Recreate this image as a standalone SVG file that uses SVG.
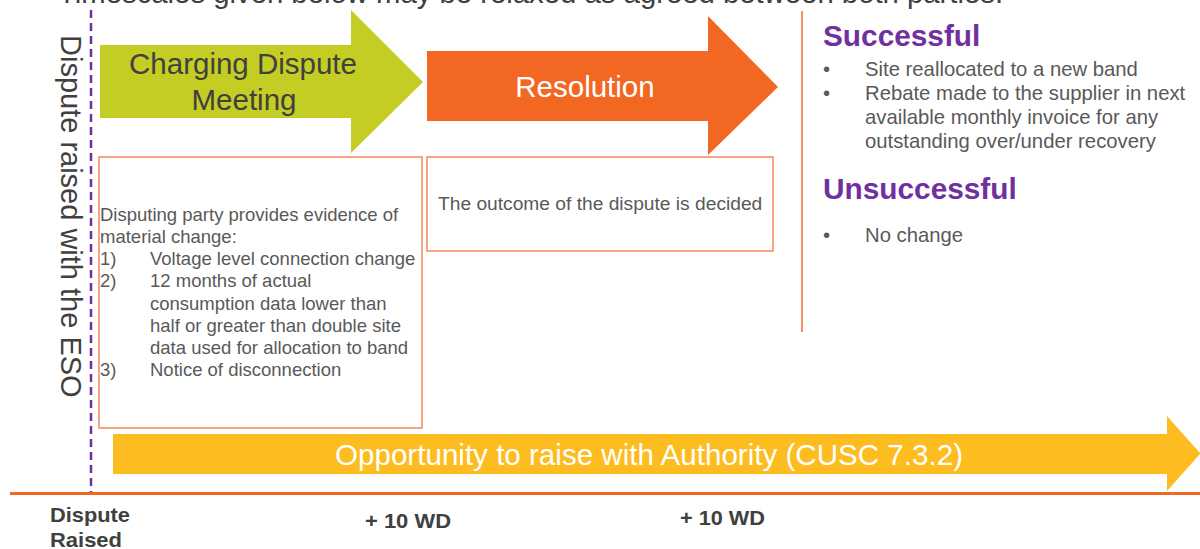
<svg xmlns="http://www.w3.org/2000/svg" width="1200" height="549" viewBox="0 0 1200 549">
  <style>
    .t { font-family: "Liberation Sans", Arial, sans-serif; }
    .body { font-family: "Liberation Sans", Arial, sans-serif; font-size: 18.5px; fill: #595959; }
    .rt { font-family: "Liberation Sans", Arial, sans-serif; font-size: 20.3px; fill: #595959; }
    .hd { font-family: "Liberation Sans", Arial, sans-serif; font-size: 29.8px; font-weight: bold; fill: #7030A0; }
    .tl { font-family: "Liberation Sans", Arial, sans-serif; font-size: 21px; font-weight: bold; fill: #404040; }
    .box { fill: #FFFFFF; stroke: #F4875A; stroke-width: 1.5; }
  </style>
  <rect x="0" y="0" width="1200" height="549" fill="#FFFFFF"/>

  <!-- Cropped heading at top -->
  <text class="t" x="58" y="3" font-size="29.3" fill="#404040">Timescales given below may be relaxed as agreed between both parties.</text>

  <g id="connectors">
    <!-- dispute raised marker -->
    <line x1="91" y1="10" x2="91" y2="492" stroke="#7030A0" stroke-width="2.5" stroke-dasharray="8 5"/>
    <!-- timeline -->
    <line x1="10" y1="493.5" x2="1200" y2="493.5" stroke="#F26722" stroke-width="3"/>
    <!-- outcome separator -->
    <line x1="802" y1="11" x2="802" y2="332" stroke="#F4915E" stroke-width="2"/>
  </g>

  <g id="dispute-raised-label">
    <text class="t" transform="translate(61,35) rotate(90)" font-size="29" fill="#404040">Dispute raised with the ESO</text>
  </g>

  <g id="charging-dispute-meeting">
    <polygon points="100,45 351,45 351,10 423,82 351,153 351,118 100,118" fill="#C4CD23"/>
    <text class="t" x="243" y="74" font-size="29.5" fill="#404040" text-anchor="middle">Charging Dispute</text>
    <text class="t" x="244" y="110" font-size="29.5" fill="#404040" text-anchor="middle">Meeting</text>
  </g>

  <g id="resolution">
    <polygon points="427,51 708,51 708,16 778,87 708,155 708,121 427,121" fill="#F26722"/>
    <text class="t" x="585" y="97" font-size="29.5" fill="#FFFFFF" text-anchor="middle">Resolution</text>
  </g>

  <g id="evidence-box">
    <rect class="box" x="99" y="157" width="323" height="271"/>
    <text class="body" x="100" y="221">Disputing party provides evidence of</text>
    <text class="body" x="100" y="243">material change:</text>
    <text class="body" x="100" y="265">1)</text>
    <text class="body" x="150" y="265">Voltage level connection change</text>
    <text class="body" x="100" y="287">2)</text>
    <text class="body" x="150" y="287">12 months of actual</text>
    <text class="body" x="150" y="310">consumption data lower than</text>
    <text class="body" x="150" y="332">half or greater than double site</text>
    <text class="body" x="150" y="354">data used for allocation to band</text>
    <text class="body" x="100" y="376">3)</text>
    <text class="body" x="150" y="376">Notice of disconnection</text>
  </g>

  <g id="outcome-box">
    <rect class="box" x="427" y="157" width="346" height="94"/>
    <text class="body" x="438" y="210" style="font-size:19.2px">The outcome of the dispute is decided</text>
  </g>

  <g id="outcomes">
    <text class="hd" x="823" y="46">Successful</text>
    <text class="rt" x="823" y="76">•</text>
    <text class="rt" x="865" y="76">Site reallocated to a new band</text>
    <text class="rt" x="823" y="100">•</text>
    <text class="rt" x="865" y="100">Rebate made to the supplier in next</text>
    <text class="rt" x="865" y="124">available monthly invoice for any</text>
    <text class="rt" x="865" y="148">outstanding over/under recovery</text>
    <text class="hd" x="823" y="199">Unsuccessful</text>
    <text class="rt" x="823" y="242">•</text>
    <text class="rt" x="865" y="242">No change</text>
  </g>

  <g id="authority-arrow">
    <polygon points="113,434 1167,434 1167,416 1200,453 1200,454 1167,491 1167,474 113,474" fill="#FDBC1F"/>
    <text class="t" x="335" y="465" font-size="29" fill="#FFFFFF" textLength="628" lengthAdjust="spacingAndGlyphs">Opportunity to raise with Authority (CUSC 7.3.2)</text>
  </g>

  <g id="timeline-labels">
    <text class="tl" x="50" y="522" textLength="80" lengthAdjust="spacingAndGlyphs">Dispute</text>
    <text class="tl" x="50" y="547" textLength="72" lengthAdjust="spacingAndGlyphs">Raised</text>
    <text class="tl" x="365" y="528" textLength="86" lengthAdjust="spacingAndGlyphs">+ 10 WD</text>
    <text class="tl" x="680" y="525" textLength="85" lengthAdjust="spacingAndGlyphs">+ 10 WD</text>
  </g>
</svg>
